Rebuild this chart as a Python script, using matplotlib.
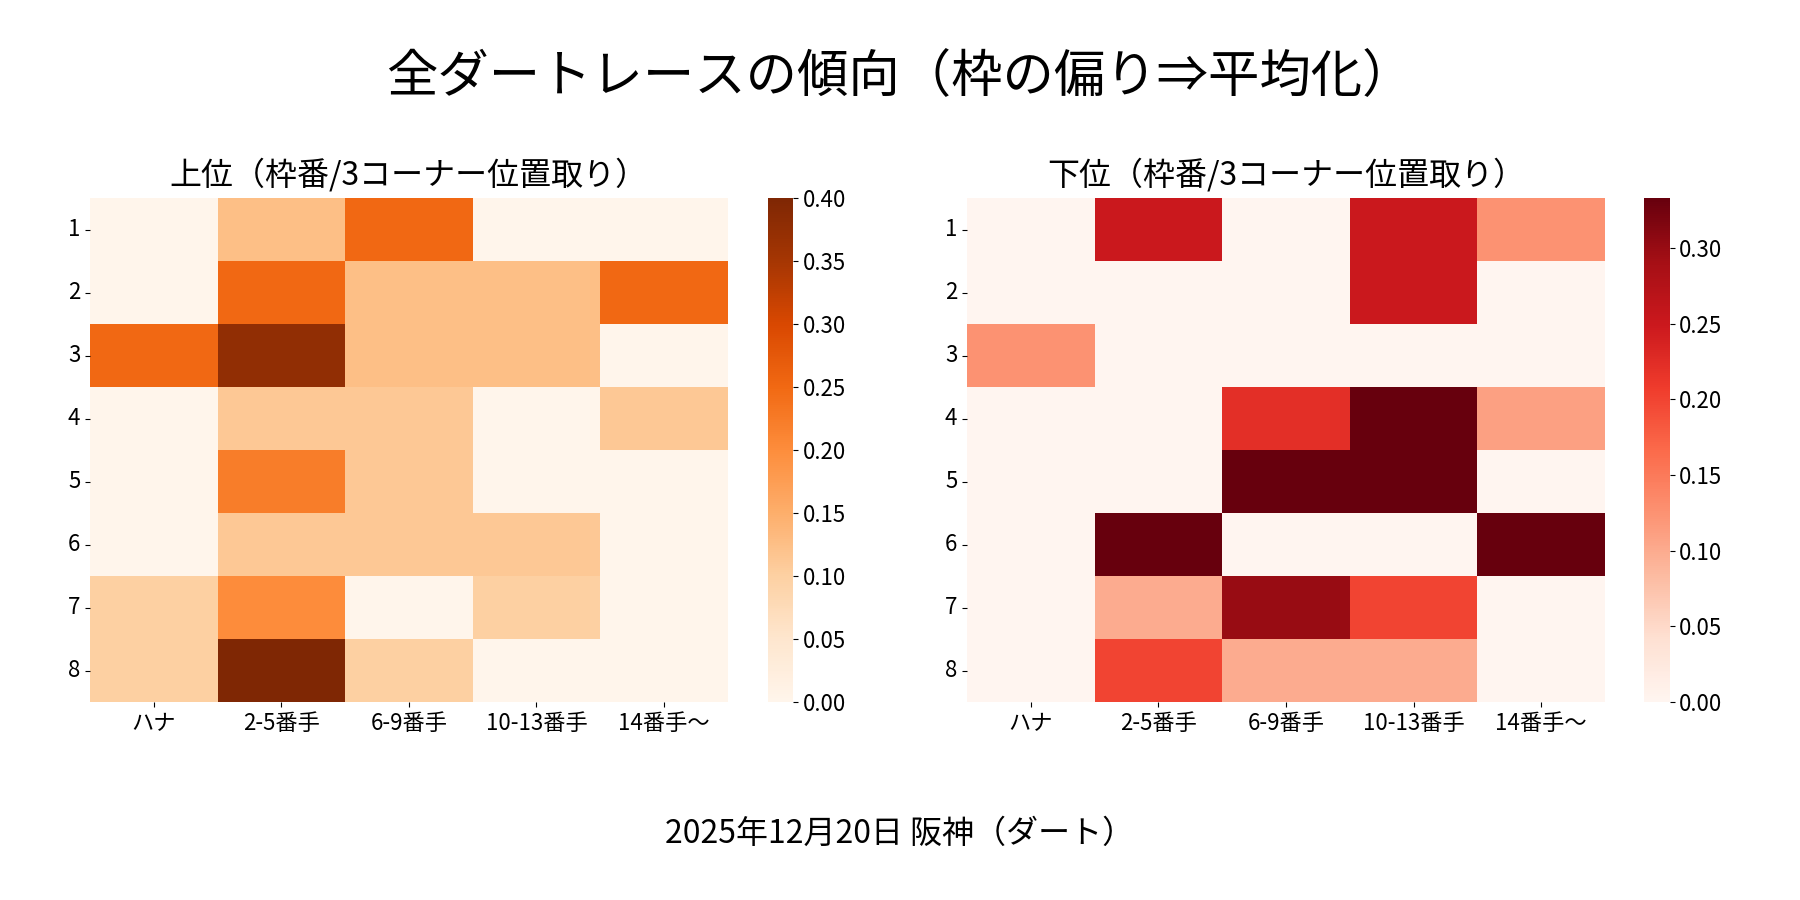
import numpy as np
import pandas as pd
import matplotlib
matplotlib.use('Agg')
import matplotlib.pyplot as plt
import seaborn as sns

plt.rcParams['font.family'] = ['Noto Sans CJK JP', 'DejaVu Sans']

waku = ['1', '2', '3', '4', '5', '6', '7', '8']
ichi = ['ハナ', '2-5番手', '6-9番手', '10-13番手', '14番手〜']

# 上位 (top finishers) ratio
joui = [
    [0.000, 0.125, 0.250, 0.000, 0.000],
    [0.000, 0.250, 0.125, 0.125, 0.250],
    [0.250, 0.375, 0.125, 0.125, 0.000],
    [0.000, 0.111, 0.111, 0.000, 0.111],
    [0.000, 0.222, 0.111, 0.000, 0.000],
    [0.000, 0.111, 0.111, 0.111, 0.000],
    [0.100, 0.200, 0.000, 0.100, 0.000],
    [0.100, 0.400, 0.100, 0.000, 0.000],
]

# 下位 (bottom finishers) ratio
kai = [
    [0.000, 0.250, 0.000, 0.250, 0.125],
    [0.000, 0.000, 0.000, 0.250, 0.000],
    [0.125, 0.000, 0.000, 0.000, 0.000],
    [0.000, 0.000, 0.222, 0.333, 0.111],
    [0.000, 0.000, 0.333, 0.333, 0.000],
    [0.000, 0.333, 0.000, 0.000, 0.333],
    [0.000, 0.100, 0.300, 0.200, 0.000],
    [0.000, 0.200, 0.100, 0.100, 0.000],
]

df_top = pd.DataFrame(joui, index=waku, columns=ichi)
df_bot = pd.DataFrame(kai, index=waku, columns=ichi)

fig = plt.figure(figsize=(18, 9), dpi=100)

ax1 = fig.add_axes([0.0500, 0.2200, 0.3543, 0.5600])
cax1 = fig.add_axes([0.4269, 0.2200, 0.0138, 0.5600])
ax2 = fig.add_axes([0.5372, 0.2200, 0.3545, 0.5600])
cax2 = fig.add_axes([0.9133, 0.2200, 0.0142, 0.5600])

sns.heatmap(df_top, cmap='Oranges', vmin=0, ax=ax1, cbar_ax=cax1)
sns.heatmap(df_bot, cmap='Reds', vmin=0, ax=ax2, cbar_ax=cax2)

for ax, title in [(ax1, '上位（枠番/3コーナー位置取り）'), (ax2, '下位（枠番/3コーナー位置取り）')]:
    ax.set_title(title, fontsize=23, pad=10)
    ax.tick_params(axis='both', labelsize=16)
    ax.set_yticklabels(ax.get_yticklabels(), rotation=0)
    ax.set_xticklabels(ax.get_xticklabels(), rotation=0)
    ax.set_xlabel('')
    ax.set_ylabel('')

for cax in (cax1, cax2):
    cax.tick_params(labelsize=16)

fig.suptitle('全ダートレースの傾向（枠の偏り⇒平均化）', fontsize=37, y=0.944)
fig.text(0.5, 0.074, '2025年12月20日 阪神（ダート）', ha='center', va='center', fontsize=23)

plt.savefig('out.png', dpi=100)
